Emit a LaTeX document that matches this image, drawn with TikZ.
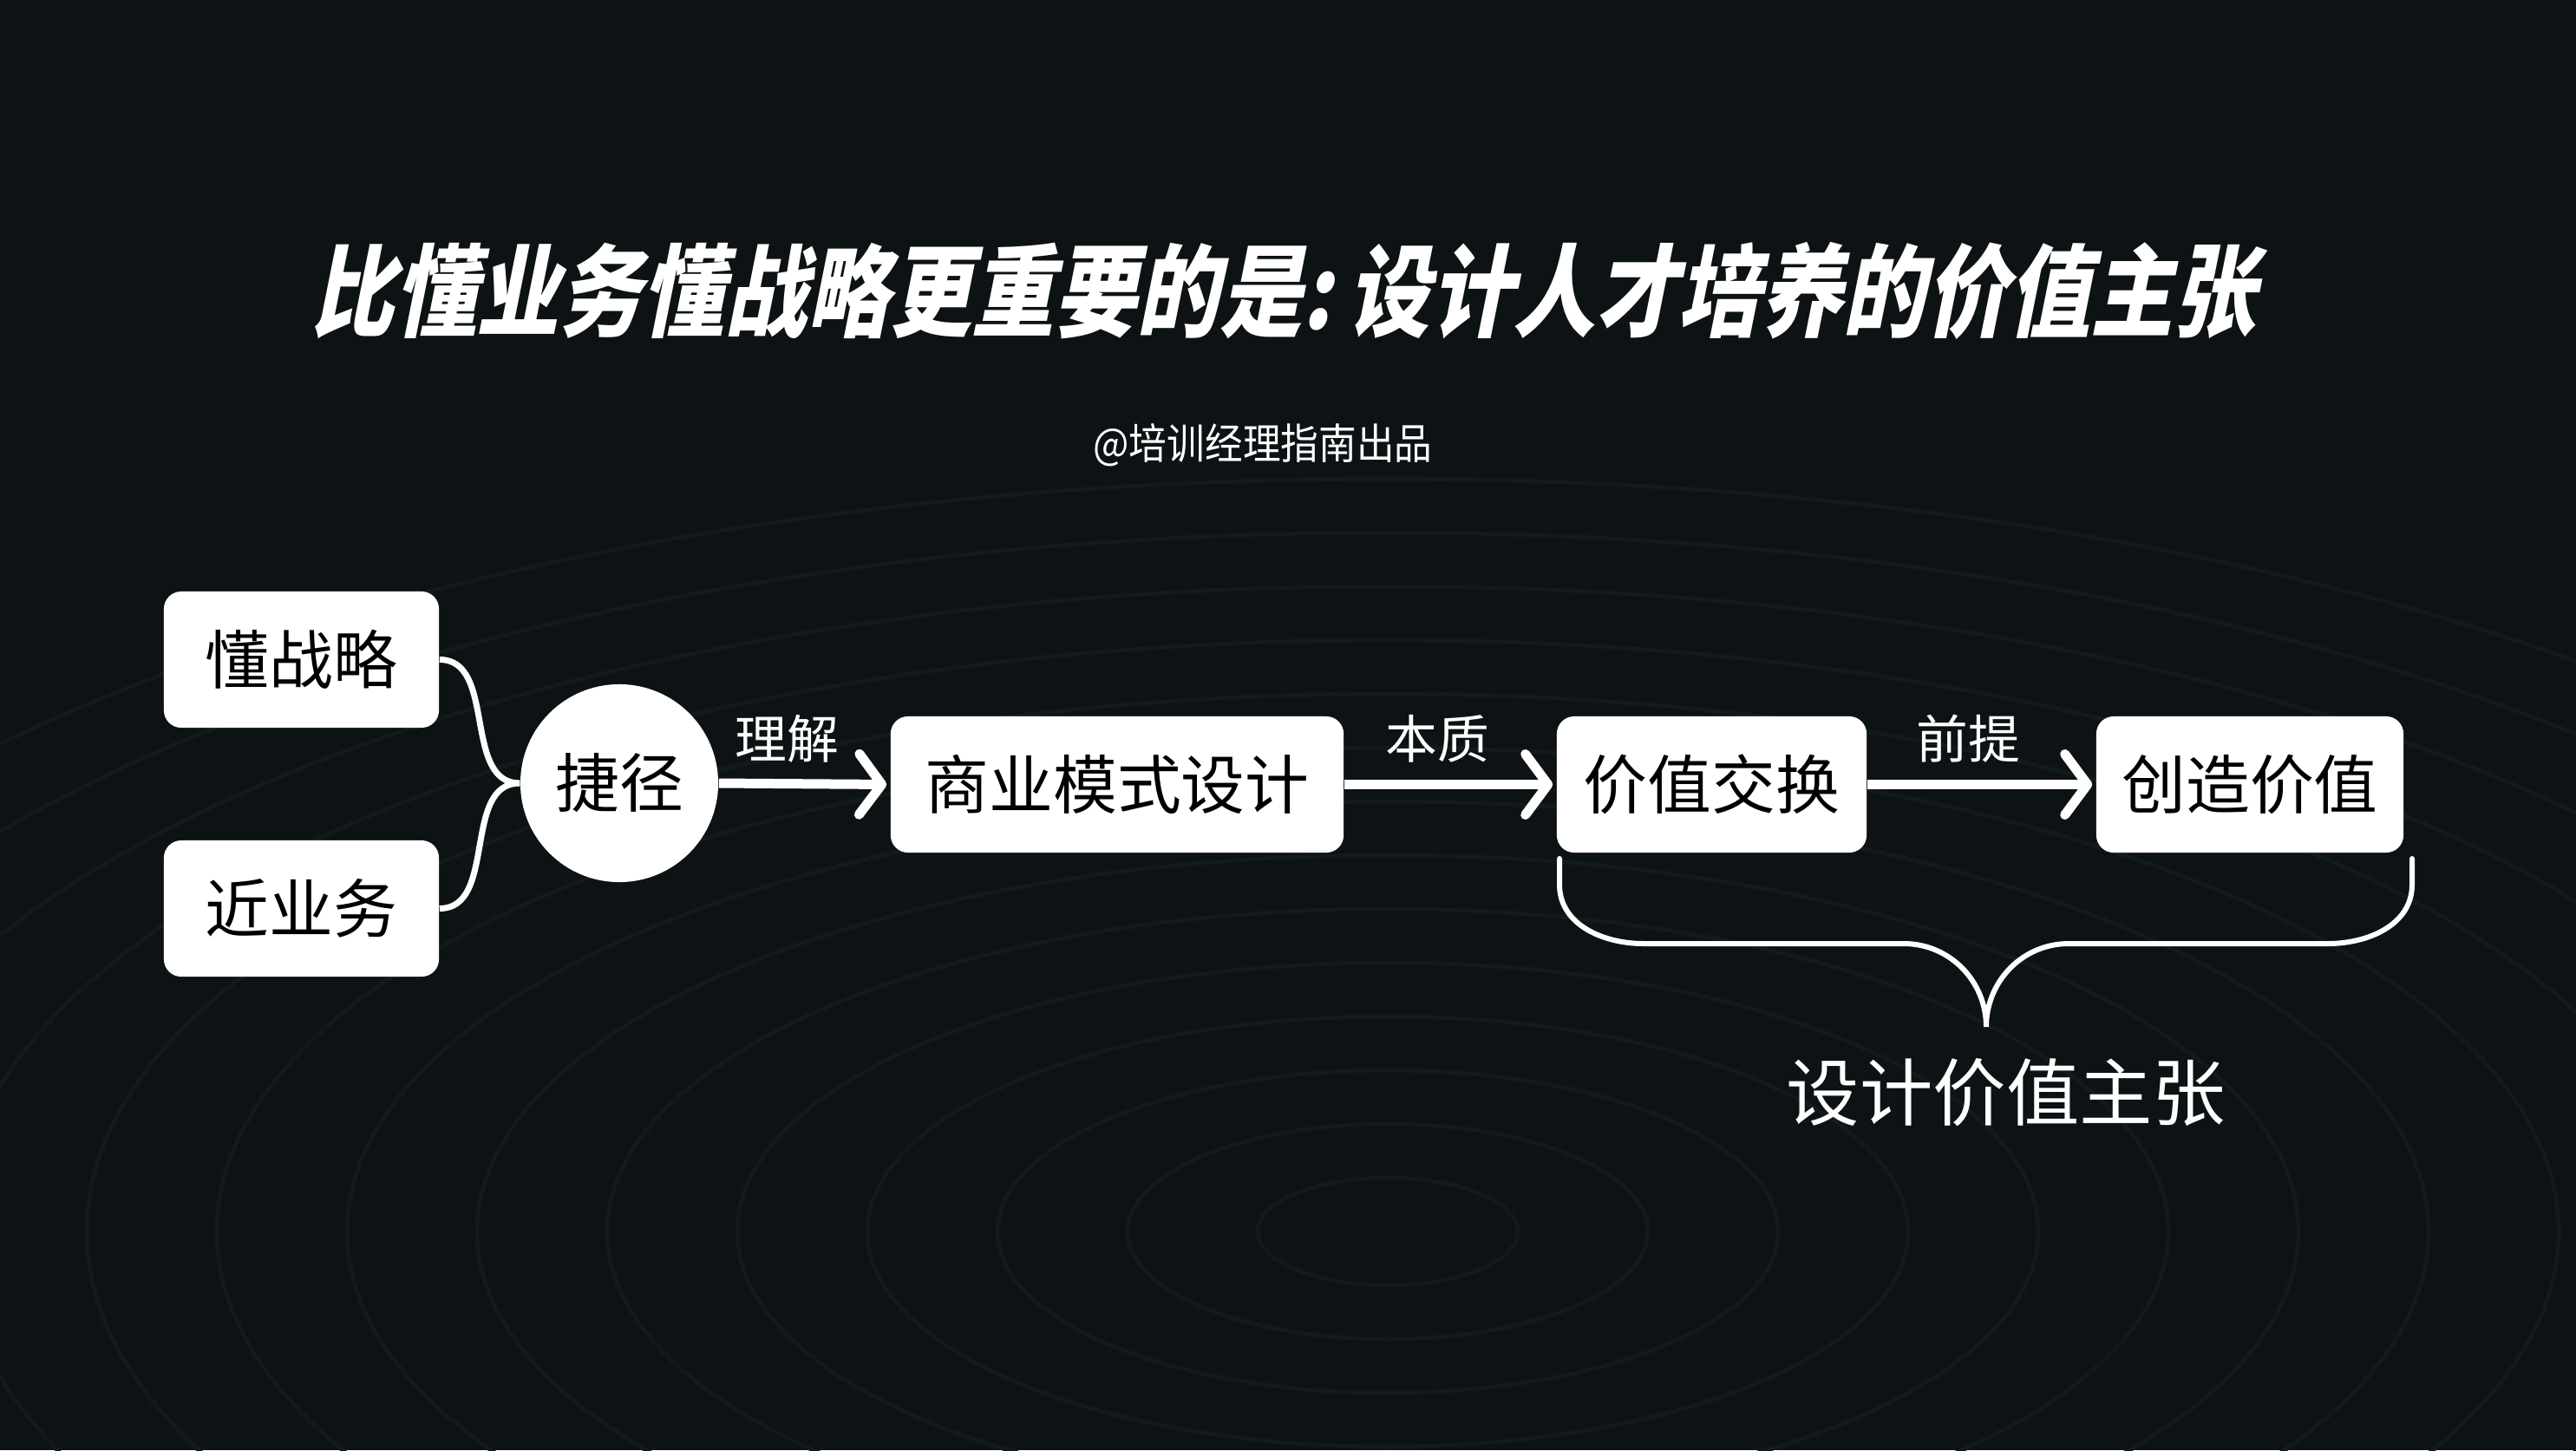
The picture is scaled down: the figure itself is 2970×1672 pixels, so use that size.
\documentclass[tikz,border=0pt]{standalone}
\usepackage{fontspec}
\usetikzlibrary{arrows.meta}
\newfontfamily\cjk{Noto Sans CJK SC}
\newfontfamily\cjkTitle[FakeSlant=0.2,FakeStretch=0.82]{Noto Sans CJK SC}
\newfontfamily\cjkNarrow[FakeStretch=0.9]{Noto Sans CJK SC}
\definecolor{bgDark}{HTML}{0D1214}
\definecolor{bgRipple}{HTML}{121A1C}
\tikzset{
  block/.style={fill=white, rounded corners=0.2cm, minimum height=1.57cm, inner sep=0pt,
    font=\cjk\fontsize{21}{21}\selectfont, text=black},
  hub/.style={circle, fill=white, minimum size=2.28cm, inner sep=0pt,
    font=\cjk\fontsize{21}{21}\selectfont, text=black},
  flow/.style={draw=white, line width=0.11cm, shorten >=0.04cm,
    -{Straight Barb[length=0.26cm, width=0.7cm, round]}},
  link/.style={draw=white, line width=0.07cm},
  brace/.style={draw=white, line width=0.06cm, line cap=round},
  arrowLabel/.style={text=white, font=\cjk\fontsize{17}{17}\selectfont},
}
\begin{document}
\begin{tikzpicture}[x=0.01cm, y=-0.01cm]
  %% Background
  \fill[bgDark] (0,0) rectangle (2970,1672);
  \useasboundingbox (0,0) rectangle (2970,1672);
  \foreach \r in {1,...,14}
    \draw[bgRipple, line width=0.05cm] (1600,1420) ellipse ({\r*150} and {\r*62});
  %% Title
  \node[text=white, font=\cjkTitle\bfseries\fontsize{33}{33}\selectfont] (title) at (1480,335)
    {比懂业务懂战略更重要的是:\,设计人才培养的价值主张};
  \node[text=white, font=\cjkNarrow\fontsize{13.8}{13.8}\selectfont] (credit) at (1456,513)
    {@培训经理指南出品};
  %% Blocks
  \node[block, minimum width=3.17cm] (strategy) at (347.5,760.5) {懂战略};
  \node[block, minimum width=3.17cm] (business) at (347.5,1047.5) {近业务};
  \node[hub] (shortcut) at (714,903) {捷径};
  \node[block, minimum width=5.22cm] (model) at (1288,904.5) {商业模式设计};
  \node[block, minimum width=3.57cm] (exchange) at (1973.5,904.5) {价值交换};
  \node[block, minimum width=3.54cm] (create) at (2594,904.5) {创造价值};
  %% Connectors
  \draw[link] (strategy.east) to[out=0, in=180] (shortcut.west);
  \draw[link] (business.east) to[out=0, in=180] (shortcut.west);
  \draw[flow] (shortcut.east) -- (model.west);
  \draw[flow] (model.east) -- (exchange.west);
  \draw[flow] (exchange.east) -- (create.west);
  %% Arrow labels
  \node[arrowLabel] (understand) at (907,852) {理解};
  \node[arrowLabel] (essence) at (1657,852) {本质};
  \node[arrowLabel] (premise) at (2269,852) {前提};
  %% Brace
  \coordinate (braceLeft) at (1798,990);
  \coordinate (braceRight) at (2781,990);
  \coordinate (braceTip) at (2290,1184);
  \draw[brace] (braceLeft) -- (1798,1020) to[out=-90, in=180] (1895,1088) -- (2195,1088)
    to[out=0, in=90] (braceTip) to[out=90, in=180] (2385,1088) -- (2684,1088)
    to[out=0, in=-90] (2781,1020) -- (braceRight);
  \node[text=white, font=\cjk\fontsize{24}{24}\selectfont] (proposition) at (2313,1260)
    {设计价值主张};
\end{tikzpicture}
\end{document}
